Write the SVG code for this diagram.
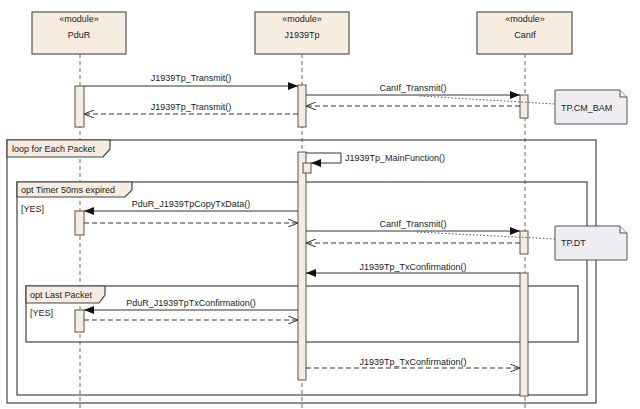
<svg xmlns="http://www.w3.org/2000/svg" width="640" height="409" viewBox="0 0 640 409">
<defs>
<style>
text{font-family:"Liberation Sans",Arial,sans-serif;font-size:9px;fill:#222}
.head{fill:#f6ece0;stroke:#555;stroke-width:1.2}
.life{stroke:#666;stroke-width:1;stroke-dasharray:4,3;fill:none}
.act{fill:#f6ece0;stroke:#555;stroke-width:1}
.frame{fill:none;stroke:#444;stroke-width:1.2}
.tab{fill:#f6ece0;stroke:#444;stroke-width:1.2}
.msg{stroke:#333;stroke-width:1;fill:none}
.ret{stroke:#333;stroke-width:1;fill:none;stroke-dasharray:5,3}
.dot{stroke:#555;stroke-width:1;fill:none;stroke-dasharray:1.5,2}
.note{fill:#efedf2;stroke:#555;stroke-width:1}
</style>
<marker id="fa" markerWidth="10" markerHeight="8" refX="10" refY="4" orient="auto" markerUnits="userSpaceOnUse"><path d="M0,0 L10,4 L0,8 Z" fill="#111"/></marker>
<marker id="oa" markerWidth="10" markerHeight="8" refX="10" refY="4" orient="auto" markerUnits="userSpaceOnUse"><path d="M0,0 L10,4 L0,8" fill="none" stroke="#333" stroke-width="1"/></marker>
</defs>
<rect width="640" height="409" fill="#fff"/>

<g id="lifelines">
<line class="life" x1="80" y1="54" x2="80" y2="409"/>
<line class="life" x1="302" y1="54" x2="302" y2="409"/>
<line class="life" x1="525" y1="54" x2="525" y2="409"/>
</g>

<g id="PduR"><rect class="head" x="32" y="12" width="94" height="42"/><text x="79" y="22" text-anchor="middle">«module»</text><text x="79" y="38" text-anchor="middle">PduR</text></g>
<g id="J1939Tp"><rect class="head" x="255" y="12" width="94" height="42"/><text x="302" y="22" text-anchor="middle">«module»</text><text x="302" y="38" text-anchor="middle">J1939Tp</text></g>
<g id="CanIf"><rect class="head" x="477" y="12" width="95" height="42"/><text x="525" y="22" text-anchor="middle">«module»</text><text x="525" y="38" text-anchor="middle">CanIf</text></g>

<g id="loop-frame">
<rect class="frame" x="7" y="140" width="589" height="263"/>
<path class="tab" d="M7,140 H110 V149 L103,157 H7 Z"/>
<text x="12" y="152">loop for Each Packet</text>
</g>
<g id="opt-timer-frame">
<rect class="frame" x="17" y="182" width="570" height="213"/>
<path class="tab" d="M17,182 H132 V190 L125,197 H17 Z"/>
<text x="21" y="193">opt Timer 50ms expired</text>
<text x="21" y="212">[YES]</text>
</g>
<g id="opt-last-frame">
<rect class="frame" x="26" y="286" width="552" height="56"/>
<path class="tab" d="M26,286 H105 V295 L99,303 H26 Z"/>
<text x="30" y="298">opt Last Packet</text>
<text x="30" y="316">[YES]</text>
</g>

<g id="activations">
<rect class="act" x="75" y="86" width="9" height="41"/>
<rect class="act" x="298" y="85" width="8" height="42"/>
<rect class="act" x="520" y="95" width="8" height="23"/>
<rect class="act" x="298" y="152" width="8" height="228"/>
<rect class="act" x="303" y="163" width="8" height="10"/>
<rect class="act" x="75" y="211" width="9" height="24"/>
<rect class="act" x="520" y="231" width="8" height="23"/>
<rect class="act" x="520" y="273" width="8" height="123"/>
<rect class="act" x="75" y="310" width="9" height="22"/>
</g>

<g id="connectors">
<line class="msg" x1="84" y1="86" x2="298" y2="86" marker-end="url(#fa)"/>
<text x="191" y="81" text-anchor="middle">J1939Tp_Transmit()</text>
<line class="ret" x1="298" y1="114" x2="84" y2="114" marker-end="url(#oa)"/>
<text x="191" y="110" text-anchor="middle">J1939Tp_Transmit()</text>
<line class="msg" x1="306" y1="95" x2="520" y2="95" marker-end="url(#fa)"/>
<text x="413" y="91" text-anchor="middle">CanIf_Transmit()</text>
<line class="ret" x1="520" y1="106" x2="306" y2="106" marker-end="url(#oa)"/>
<path class="dot" d="M420,96 L555,104"/>

<path class="msg" d="M306,153 H341 V163 H311" marker-end="url(#fa)"/>
<text x="345" y="161">J1939Tp_MainFunction()</text>

<line class="msg" x1="298" y1="211" x2="84" y2="211" marker-end="url(#fa)"/>
<text x="191" y="207" text-anchor="middle">PduR_J1939TpCopyTxData()</text>
<line class="ret" x1="84" y1="223" x2="298" y2="223" marker-end="url(#oa)"/>

<line class="msg" x1="306" y1="231" x2="520" y2="231" marker-end="url(#fa)"/>
<text x="413" y="227" text-anchor="middle">CanIf_Transmit()</text>
<line class="ret" x1="520" y1="243" x2="306" y2="243" marker-end="url(#oa)"/>
<path class="dot" d="M417,232 L555,239"/>

<line class="msg" x1="520" y1="273" x2="306" y2="273" marker-end="url(#fa)"/>
<text x="413" y="270" text-anchor="middle">J1939Tp_TxConfirmation()</text>

<line class="msg" x1="298" y1="310" x2="84" y2="310" marker-end="url(#fa)"/>
<text x="191" y="306" text-anchor="middle">PduR_J1939TpTxConfirmation()</text>
<line class="ret" x1="84" y1="320" x2="298" y2="320" marker-end="url(#oa)"/>

<line class="ret" x1="306" y1="368" x2="520" y2="368" marker-end="url(#oa)"/>
<text x="413" y="365" text-anchor="middle">J1939Tp_TxConfirmation()</text>
</g>

<g id="note-cm-bam">
<path class="note" d="M555,90 H620 L627,97 V124 H555 Z"/>
<path class="note" d="M620,90 V97 H627"/>
<text x="561" y="111">TP.CM_BAM</text>
</g>
<g id="note-dt">
<path class="note" d="M555,226 H620 L627,233 V260 H555 Z"/>
<path class="note" d="M620,226 V233 H627"/>
<text x="561" y="246">TP.DT</text>
</g>
</svg>
